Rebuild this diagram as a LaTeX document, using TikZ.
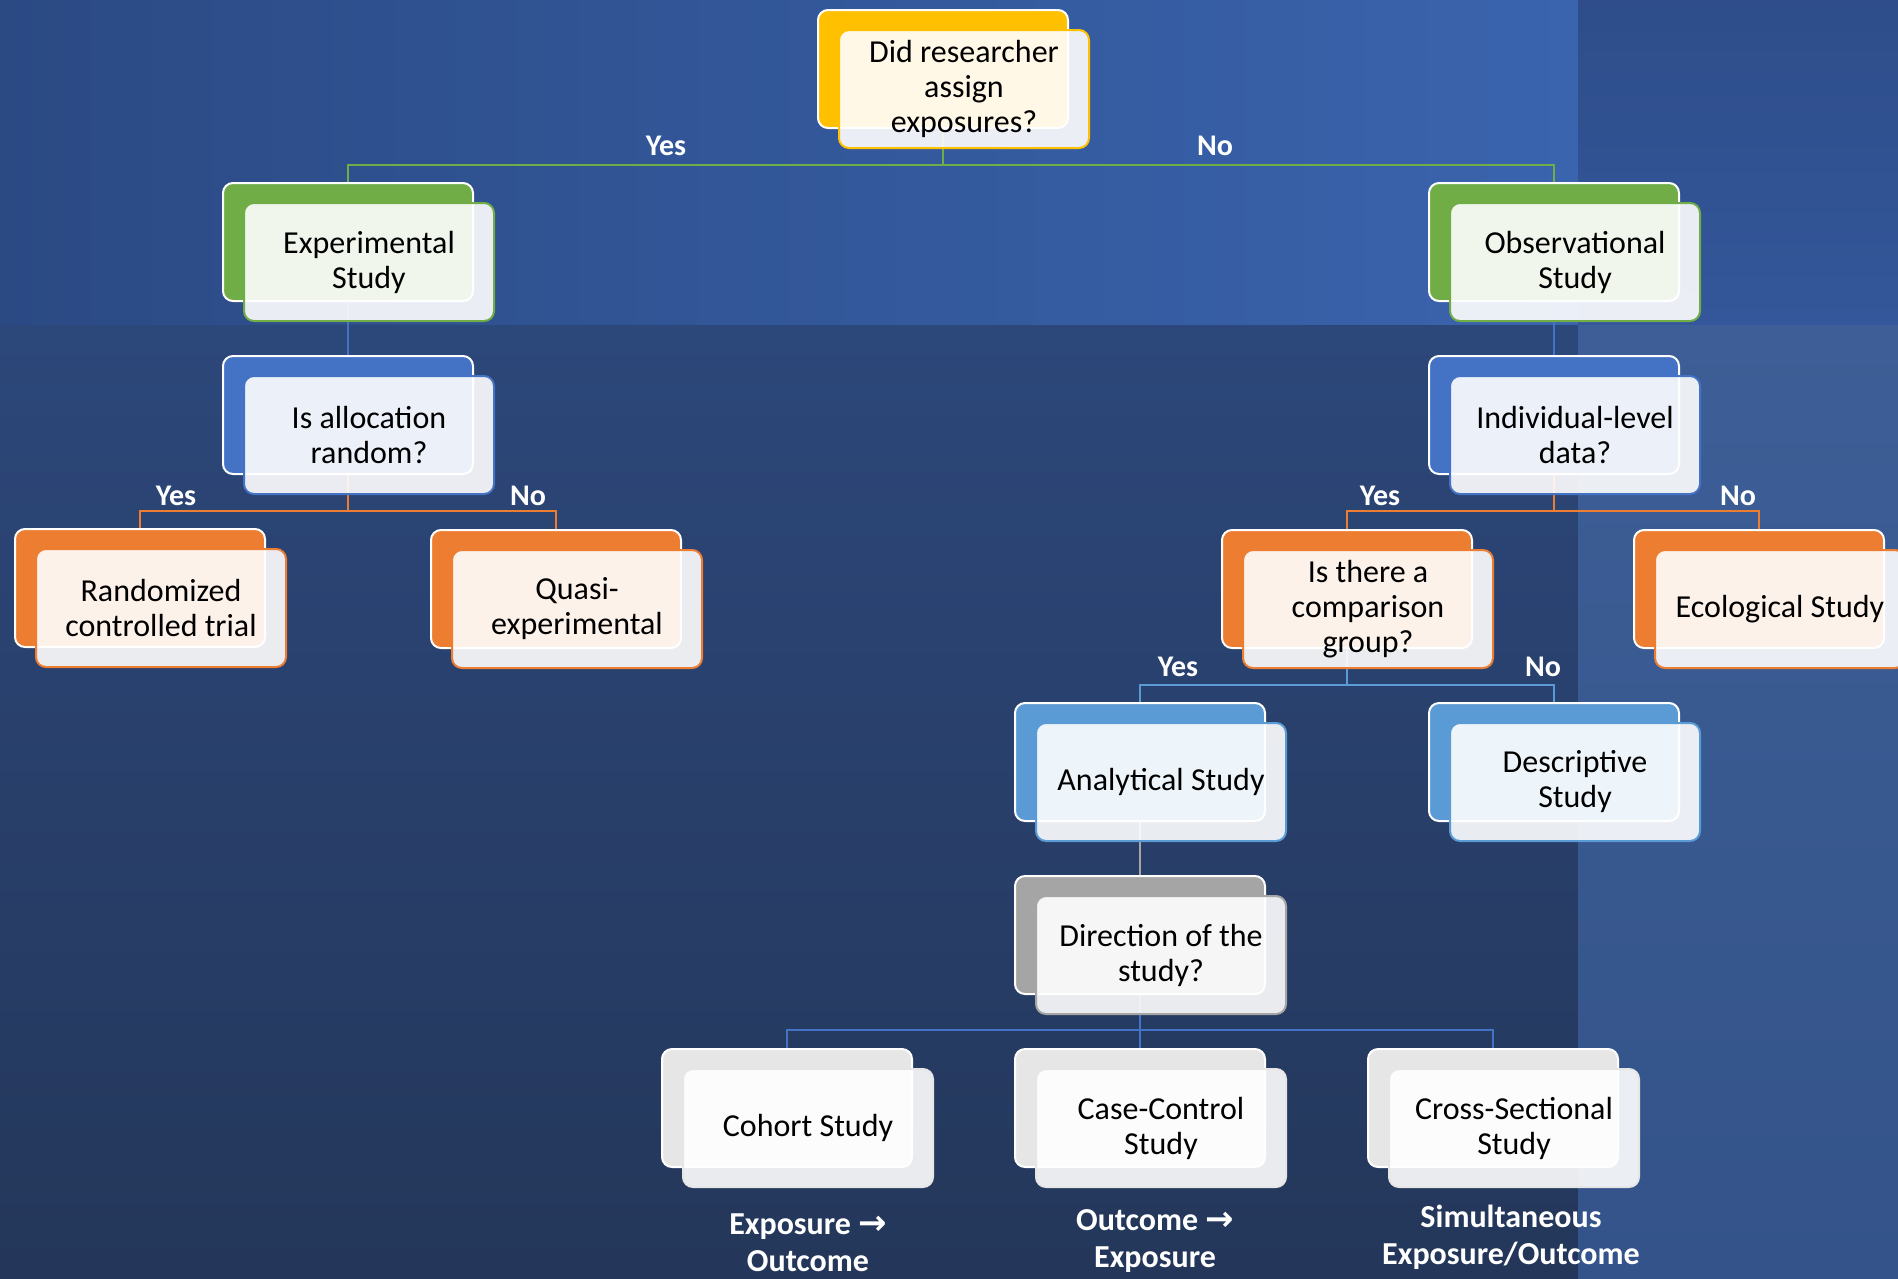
\documentclass[tikz,border=0pt]{standalone}
\usepackage{fontspec}
\setmainfont{Carlito}
\newfontfamily\arrowfont{DejaVu Sans}

\definecolor{cYel}{HTML}{FFC000}
\definecolor{cGrn}{HTML}{70AD47}
\definecolor{cBlu}{HTML}{4472C4}
\definecolor{cOrg}{HTML}{ED7D31}
\definecolor{cLbl}{HTML}{5B9BD5}
\definecolor{cGry}{HTML}{A5A5A5}
\definecolor{cPal}{HTML}{E7E6E6}
\definecolor{bgAl}{HTML}{2B4A84}
\definecolor{bgAr}{HTML}{3A64AE}
\definecolor{bgBt}{HTML}{2C477A}
\definecolor{bgBb}{HTML}{24375A}
\definecolor{bgCt}{HTML}{2E4D8A}
\definecolor{bgCb}{HTML}{33579A}
\definecolor{bgDt}{HTML}{3D5E96}
\definecolor{bgDb}{HTML}{33538A}

\pgfdeclarelayer{canvas}
\pgfdeclarelayer{wires}
\pgfsetlayers{canvas,wires,main}

\tikzset{
  backbox/.style={draw=white, line width=2pt, rounded corners=10pt,
    minimum width=250pt, minimum height=118pt, anchor=north west, inner sep=0pt},
  frontbox/.style={fill=white, fill opacity=0.9, text opacity=1, line width=2pt,
    rounded corners=10pt, minimum width=250pt, minimum height=118pt,
    anchor=north west, inner sep=0pt, align=center, text=black,
    font=\fontsize{32}{35}\selectfont},
  wire/.style={line width=2pt},
  yn/.style={text=white, font=\fontsize{30}{35}\selectfont\bfseries, inner sep=0pt},
  note/.style={text=white, align=center, inner sep=0pt,
    font=\fontsize{32}{37}\selectfont\bfseries},
}

% a study-type box: coloured tab behind, translucent card in front
\newcommand\tnode[5]{%
  \node[backbox, fill=#4] (#1) at (#2,#3) {};
  \node[frontbox, draw=#4] (#1f) at (#2+21,#3+20) {#5};
}
\newcommand\rarr{{\arrowfont\bfseries\fontsize{34}{37}\selectfont →}}

\begin{document}
\begin{tikzpicture}[x=1pt,y=-1pt]
\useasboundingbox (0,0) rectangle (1898,1278);

\begin{pgfonlayer}{canvas}
  \shade[left color=bgAl, right color=bgAr] (0,0) rectangle (1578,325);
  \shade[top color=bgBt, bottom color=bgBb] (0,325) rectangle (1578,1278);
  \shade[top color=bgCt, bottom color=bgCb] (1578,0) rectangle (1898,325);
  \shade[top color=bgDt, bottom color=bgDb] (1578,325) rectangle (1898,1278);
\end{pgfonlayer}

% boxes
\tnode{q0}{817}{9}{cYel}{Did researcher\\assign\\exposures?}
\tnode{exp}{222}{182}{cGrn}{Experimental\\Study}
\tnode{obs}{1428}{182}{cGrn}{Observational\\Study}
\tnode{alloc}{222}{355}{cBlu}{Is allocation\\random?}
\tnode{indiv}{1428}{355}{cBlu}{Individual-level\\data?}
\tnode{rct}{14}{528}{cOrg}{Randomized\\controlled trial}
\tnode{quasi}{430}{529}{cOrg}{Quasi-\\experimental}
\tnode{comp}{1221}{529}{cOrg}{Is there a\\comparison\\group?}
\tnode{eco}{1633}{529}{cOrg}{Ecological Study}
\tnode{anal}{1014}{702}{cLbl}{Analytical Study}
\tnode{desc}{1428}{702}{cLbl}{Descriptive\\Study}
\tnode{dir}{1014}{875}{cGry}{Direction of the\\study?}
\tnode{coh}{661}{1048}{cPal}{Cohort Study}
\tnode{cc}{1014}{1048}{cPal}{Case-Control\\Study}
\tnode{cs}{1367}{1048}{cPal}{Cross-Sectional\\Study}

% branch heights
\coordinate (j0) at (0,165);
\coordinate (j1) at (0,511);
\coordinate (j2) at (0,685);
\coordinate (j3) at (0,1030);

\begin{pgfonlayer}{wires}
  \draw[wire, cGrn] (q0.center) -- (q0.center |- j0) -| (exp.center);
  \draw[wire, cGrn] (q0.center) -- (q0.center |- j0) -| (obs.center);
  \draw[wire, cBlu] (exp.center) -- (alloc.center);
  \draw[wire, cBlu] (obs.center) -- (indiv.center);
  \draw[wire, cOrg] (alloc.center) -- (alloc.center |- j1) -| (rct.center);
  \draw[wire, cOrg] (alloc.center) -- (alloc.center |- j1) -| (quasi.center);
  \draw[wire, cOrg] (indiv.center) -- (indiv.center |- j1) -| (comp.center);
  \draw[wire, cOrg] (indiv.center) -- (indiv.center |- j1) -| (eco.center);
  \draw[wire, cLbl] (comp.center) -- (comp.center |- j2) -| (anal.center);
  \draw[wire, cLbl] (comp.center) -- (comp.center |- j2) -| (desc.center);
  \draw[wire, cGry] (anal.center) -- (dir.center);
  \draw[wire, cBlu] (dir.center) -- (dir.center |- j3) -| (coh.center);
  \draw[wire, cBlu] (dir.center) -- (dir.center |- j3) -| (cc.center);
  \draw[wire, cBlu] (dir.center) -- (dir.center |- j3) -| (cs.center);
\end{pgfonlayer}

% branch labels
\node[yn] (y0) at (666,146) {Yes};
\node[yn] (n0) at (1215,146) {No};
\node[yn] (y1) at (176,496) {Yes};
\node[yn] (n1) at (528,496) {No};
\node[yn] (y2) at (1380,496) {Yes};
\node[yn] (n2) at (1738,496) {No};
\node[yn] (y3) at (1178,667) {Yes};
\node[yn] (n3) at (1543,667) {No};

% direction notes
\node[note] (cohn) at (808,1243) {Exposure \rarr\\Outcome};
\node[note] (ccn) at (1155,1241) {Outcome \rarr\\Exposure};
\node[note] (csn) at (1511,1237) {Simultaneous\\Exposure/Outcome};
\end{tikzpicture}
\end{document}
